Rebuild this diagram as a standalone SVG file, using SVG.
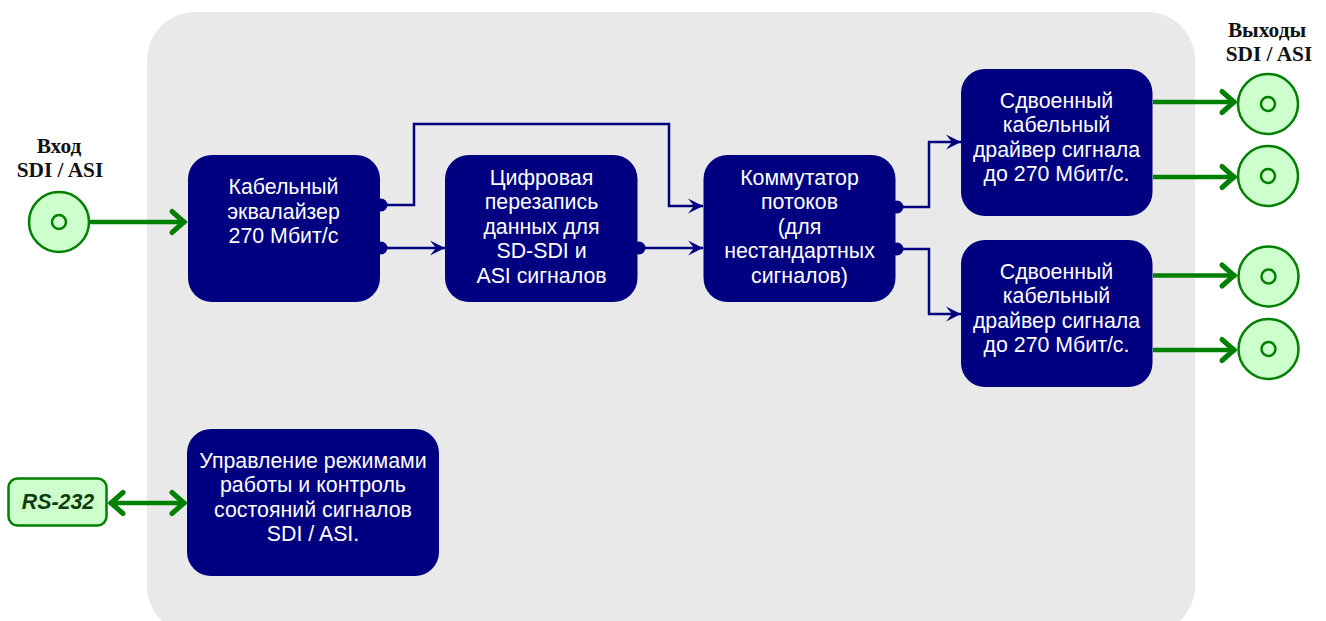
<svg xmlns="http://www.w3.org/2000/svg" width="1326" height="621" viewBox="0 0 1326 621">
<style>
.b{fill:#000080}
.t{font:21.33px "Liberation Sans",Arial,sans-serif;fill:#fff;text-anchor:middle}
.h{font:bold 21.33px "Liberation Serif","Times New Roman",serif;fill:#111;text-anchor:middle}
.c{fill:#ccffcc;stroke:#008000;stroke-width:2.5}
.g{fill:none;stroke:#008000;stroke-width:4.5}
.n{fill:none;stroke:#000080;stroke-width:2.5}
</style>
<defs>
<marker id="ga" markerUnits="userSpaceOnUse" markerWidth="20" markerHeight="26" refX="17" refY="12" orient="auto-start-reverse" overflow="visible"><path d="M3 1.500L15 12L3 22.500" fill="none" stroke="#008000" stroke-width="5" stroke-linecap="round" stroke-linejoin="miter"/></marker>
<marker id="na" markerUnits="userSpaceOnUse" markerWidth="18" markerHeight="16" refX="15" refY="8" orient="auto" overflow="visible"><path d="M0 .500L15 8L0 15.500L6 8Z" fill="#000080" stroke="none"/></marker>
</defs>
<rect id="panel" x="147" y="12" width="1048" height="622" rx="48" fill="#e9e9e9"/>
<g id="connectors">
<path class="g" d="M90 222H186" marker-end="url(#ga)"/>
<path class="g" d="M1153 102H1236" marker-end="url(#ga)"/>
<path class="g" d="M1153 177H1236" marker-end="url(#ga)"/>
<path class="g" d="M1153 275.500H1236" marker-end="url(#ga)"/>
<path class="g" d="M1153 350H1236" marker-end="url(#ga)"/>
<path class="g" d="M109 503H186" marker-start="url(#ga)" marker-end="url(#ga)"/>
<path class="n" d="M382 205H414V124H669V206H703" marker-end="url(#na)"/>
<path class="n" d="M382 248H445" marker-end="url(#na)"/>
<path class="n" d="M640 248H703" marker-end="url(#na)"/>
<path class="n" d="M897 207H929V142H961" marker-end="url(#na)"/>
<path class="n" d="M897 249H929V314H961" marker-end="url(#na)"/>
</g>
<g id="n-input"><circle class="c" cx="59" cy="222" r="30"/><circle class="c" cx="59" cy="222" r="7"/><text class="h" x="59" y="153">Вход</text><text class="h" x="60" y="177">SDI / ASI</text></g>
<g id="n-equalizer"><rect class="b" x="188" y="155" width="192" height="147" rx="24"/><circle class="b" cx="381" cy="205" r="6.500"/><circle class="b" cx="381" cy="248" r="6.500"/><text class="t" x="283.500" y="194">Кабельный</text><text class="t" x="283.500" y="219">эквалайзер</text><text class="t" x="283.500" y="243">270 Мбит/с</text></g>
<g id="n-rewrite"><rect class="b" x="445" y="155" width="192.500" height="147" rx="24"/><circle class="b" cx="639" cy="248" r="6.500"/><text class="t" x="541.500" y="185">Цифровая</text><text class="t" x="541.500" y="209">перезапись</text><text class="t" x="541.500" y="234">данных для</text><text class="t" x="541.500" y="258">SD-SDI и</text><text class="t" x="541.500" y="283">ASI сигналов</text></g>
<g id="n-switch"><rect class="b" x="703.500" y="155" width="192" height="147" rx="24"/><circle class="b" cx="897" cy="207" r="6.500"/><circle class="b" cx="897" cy="249" r="6.500"/><text class="t" x="799.500" y="185">Коммутатор</text><text class="t" x="799.500" y="209">потоков</text><text class="t" x="799.500" y="234">(для</text><text class="t" x="799.500" y="258">нестандартных</text><text class="t" x="799.500" y="283">сигналов)</text></g>
<g id="n-driver1"><rect class="b" x="961" y="69" width="191.500" height="147" rx="24"/><text class="t" x="1056.500" y="108">Сдвоенный</text><text class="t" x="1056.500" y="132">кабельный</text><text class="t" x="1056.500" y="157">драйвер сигнала</text><text class="t" x="1056.500" y="181">до 270 Мбит/с.</text></g>
<g id="n-driver2"><rect class="b" x="961" y="240" width="191.500" height="147" rx="24"/><text class="t" x="1056.500" y="279">Сдвоенный</text><text class="t" x="1056.500" y="303">кабельный</text><text class="t" x="1056.500" y="328">драйвер сигнала</text><text class="t" x="1056.500" y="352">до 270 Мбит/с.</text></g>
<g id="n-out1"><circle class="c" cx="1268" cy="104" r="30"/><circle class="c" cx="1268" cy="104" r="7"/><text class="h" x="1267" y="37">Выходы</text><text class="h" x="1269" y="61">SDI / ASI</text></g>
<g id="n-out2"><circle class="c" cx="1268" cy="176" r="30"/><circle class="c" cx="1268" cy="176" r="7"/></g>
<g id="n-out3"><circle class="c" cx="1268.500" cy="276.500" r="30"/><circle class="c" cx="1268.500" cy="276.500" r="7"/></g>
<g id="n-out4"><circle class="c" cx="1268.500" cy="349" r="30"/><circle class="c" cx="1268.500" cy="349" r="7"/></g>
<g id="n-control"><rect class="b" x="187" y="429" width="252" height="147" rx="24"/><text class="t" x="313" y="468">Управление режимами</text><text class="t" x="313" y="492">работы и контроль</text><text class="t" x="313" y="517">состояний сигналов</text><text class="t" x="313" y="541">SDI / ASI.</text></g>
<g id="n-rs232"><rect x="8.500" y="478.500" width="98" height="47" rx="9" fill="#ccffcc" stroke="#008000" stroke-width="2.500"/><text x="58" y="509" text-anchor="middle" style="font:italic bold 21.33px 'Liberation Sans',Arial,sans-serif;fill:#0b3d0b">RS-232</text></g>
</svg>
